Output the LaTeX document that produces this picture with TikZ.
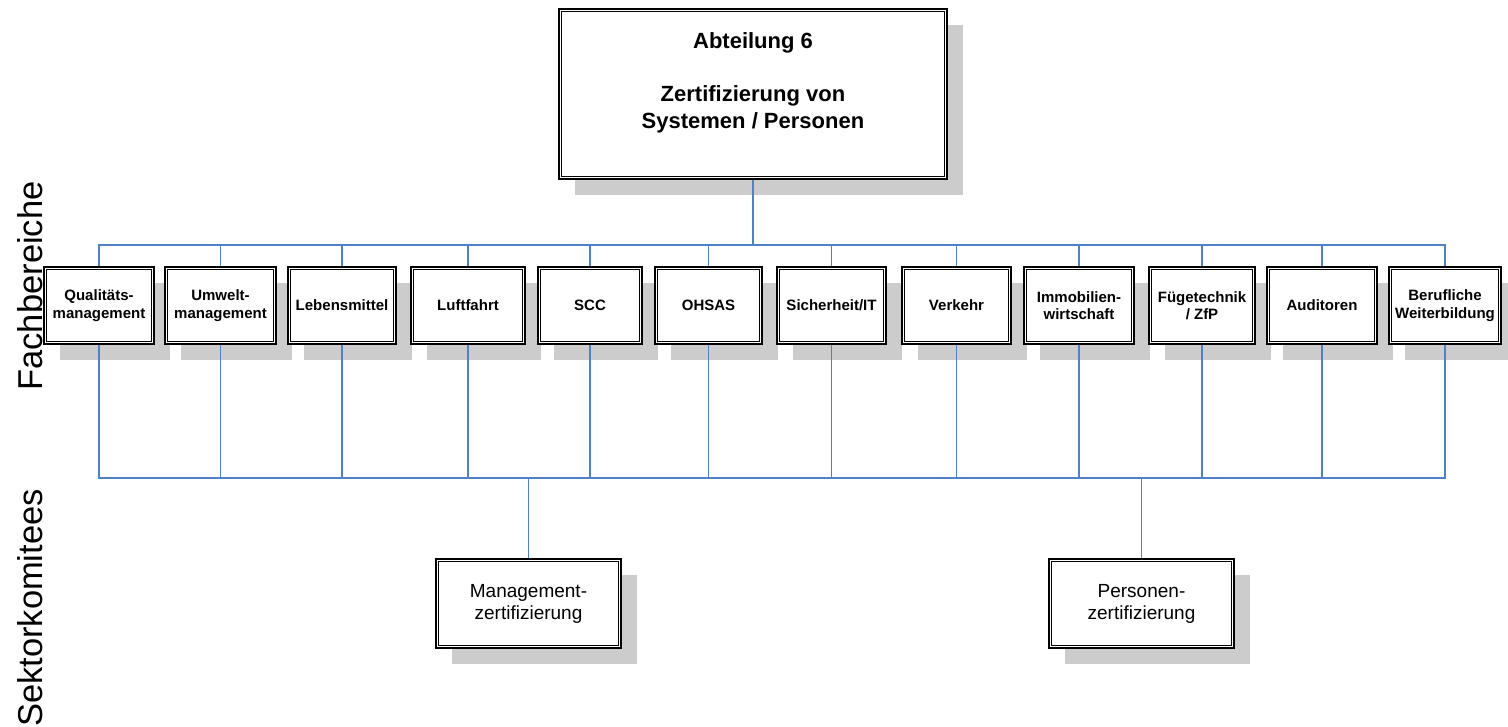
\documentclass[tikz,border=0pt]{standalone}
\usepackage{fontspec}
\setmainfont{Liberation Sans}
\usetikzlibrary{shadows}
\definecolor{linkblue}{RGB}{79,129,199}
\definecolor{shadowgrey}{RGB}{204,204,204}
\begin{document}
\begin{tikzpicture}[x=1pt,y=-1pt,
  orgbox/.style={draw=black, line width=1.6pt, fill=white, inner sep=0pt, align=center,
    general shadow={fill=shadowgrey, shadow xshift=16pt, shadow yshift=-16pt},
    path picture={\draw[line width=0.9pt]
      ([shift={(2.9pt,-2.9pt)}]path picture bounding box.north west) rectangle
      ([shift={(-2.9pt,2.9pt)}]path picture bounding box.south east);}},
  topbox/.style={orgbox, minimum width=388pt, minimum height=170pt,
    font=\bfseries\fontsize{22}{26.5}\selectfont},
  fbox/.style={orgbox, minimum height=77pt, font=\bfseries\fontsize{15}{17.5}\selectfont},
  skbox/.style={orgbox, minimum width=185pt, minimum height=89pt,
    font=\fontsize{19}{22}\selectfont},
  sidelabel/.style={rotate=90, anchor=base, inner sep=0pt, font=\fontsize{34.5}{40}\selectfont},
  link/.style={draw=linkblue, line width=1.3pt}
]
\useasboundingbox (0,0) rectangle (1508,726);

\node[sidelabel] (fb) at (42,286) {Fachbereiche};
\node[sidelabel] (sk) at (42,608) {Sektorkomitees};

\node[topbox] (top) at (753,94) {Abteilung 6\\\mbox{}\\Zertifizierung von\\Systemen / Personen\\\mbox{}};

\node[fbox, minimum width=110pt] (f1) at (99,305.5) {Qualitäts-\\management};
\node[fbox, minimum width=111pt] (f2) at (220.5,305.5) {Umwelt-\\management};
\node[fbox, minimum width=108pt] (f3) at (342,305.5) {Lebensmittel};
\node[fbox, minimum width=114pt] (f4) at (468,305.5) {Luftfahrt};
\node[fbox, minimum width=104pt] (f5) at (590,305.5) {SCC};
\node[fbox, minimum width=107pt] (f6) at (708.5,305.5) {OHSAS};
\node[fbox, minimum width=109pt] (f7) at (831.5,305.5) {Sicherheit/IT};
\node[fbox, minimum width=109pt] (f8) at (956.5,305.5) {Verkehr};
\node[fbox, minimum width=110pt] (f9) at (1079,305.5) {Immobilien-\\wirtschaft};
\node[fbox, minimum width=106pt] (f10) at (1202,305.5) {Fügetechnik\\/ ZfP};
\node[fbox, minimum width=110pt] (f11) at (1322,305.5) {Auditoren};
\node[fbox, minimum width=112pt] (f12) at (1445,305.5) {Berufliche\\Weiterbildung};

\node[skbox] (m) at (528.5,603.5) {Management-\\zertifizierung};
\node[skbox] (p) at (1141.5,603.5) {Personen-\\zertifizierung};

\coordinate (busT) at (753,245);
\coordinate (busB) at (753,478);

\foreach \i in {1,...,12}{
  \draw[link] (top.south) -- (busT) -| (f\i.north);
  \draw[link] (f\i.south) |- (m.north |- busB) -- (m.north);
  \draw[link] (f\i.south) |- (p.north |- busB) -- (p.north);
}
\end{tikzpicture}
\end{document}
